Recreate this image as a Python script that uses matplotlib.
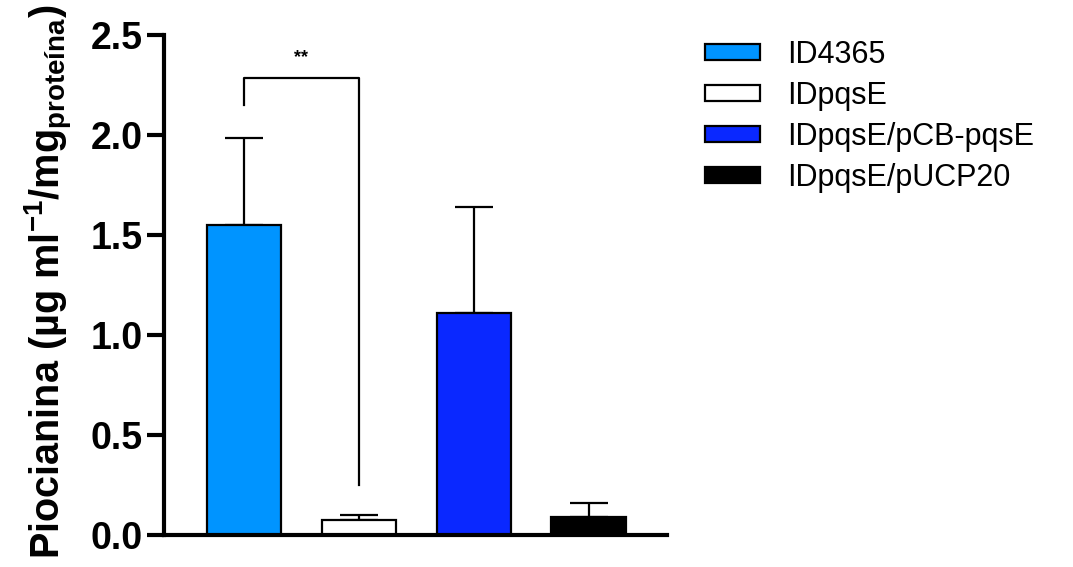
import matplotlib.pyplot as plt
import numpy as np

plt.rcParams["font.family"] = ["Liberation Sans", "DejaVu Sans"]
plt.rcParams["mathtext.fontset"] = "custom"
plt.rcParams["mathtext.rm"] = "Liberation Sans"
plt.rcParams["mathtext.bf"] = "Liberation Sans:bold"
plt.rcParams["mathtext.default"] = "bf"

groups = ["ID4365", "IDpqsE", "IDpqsE/pCB-pqsE", "IDpqsE/pUCP20"]
means = [1.55, 0.075, 1.11, 0.09]
errs = [0.435, 0.025, 0.53, 0.07]
colors = ["#0094FF", "#FFFFFF", "#0A28FF", "#000000"]

# significance bracket between the first two groups
sig_pair = (0, 1)
sig_y = 2.285
sig_legs = (2.15, 0.25)
sig_label = "**"

fig = plt.figure(figsize=(10.73, 5.67), dpi=100)
ax = fig.add_axes([0.1528, 0.0564, 0.4688, 0.8818])

x = np.arange(len(groups))
ax.bar(x, means, width=0.65, color=colors, edgecolor="black", linewidth=1.6,
       label=groups, zorder=2)
ax.errorbar(x, means, yerr=[np.zeros(len(errs)), errs], fmt="none",
            ecolor="black", elinewidth=1.6, capsize=14, capthick=1.6, zorder=1)

x0, x1 = sig_pair
ax.plot([x0, x0, x1, x1], [sig_legs[0], sig_y, sig_y, sig_legs[1]],
        color="black", lw=1.6)
ax.text((x0 + x1) / 2, sig_y + 0.06, sig_label, ha="center", va="bottom",
        fontsize=13, fontweight="bold")

ax.set_xlim(-0.696, 3.68)
ax.set_ylim(0, 2.5)
ax.set_yticks([0, 0.5, 1.0, 1.5, 2.0, 2.5])
ax.set_yticklabels(["0.0", "0.5", "1.0", "1.5", "2.0", "2.5"],
                   fontsize=27, fontweight="bold")
ax.set_xticks([])
ax.tick_params(axis="y", direction="out", length=12, width=3, pad=3.5)
for s in ["top", "right"]:
    ax.spines[s].set_visible(False)
for s in ["left", "bottom"]:
    ax.spines[s].set_linewidth(3)

ax.set_ylabel("Piocianina (µg ml$^{-1}$/mg$_{proteína}$)", fontsize=28.5,
              fontweight="bold")
ax.yaxis.set_label_coords(-0.177, 0.506)

ax.legend(loc="upper left", bbox_to_anchor=(1.0755, 0.99), frameon=False,
          fontsize=22, handlelength=1.8, handleheight=0.43, handletextpad=0.88,
          labelspacing=0.36, borderpad=0, borderaxespad=0)

fig.savefig("out.png", dpi=100)
